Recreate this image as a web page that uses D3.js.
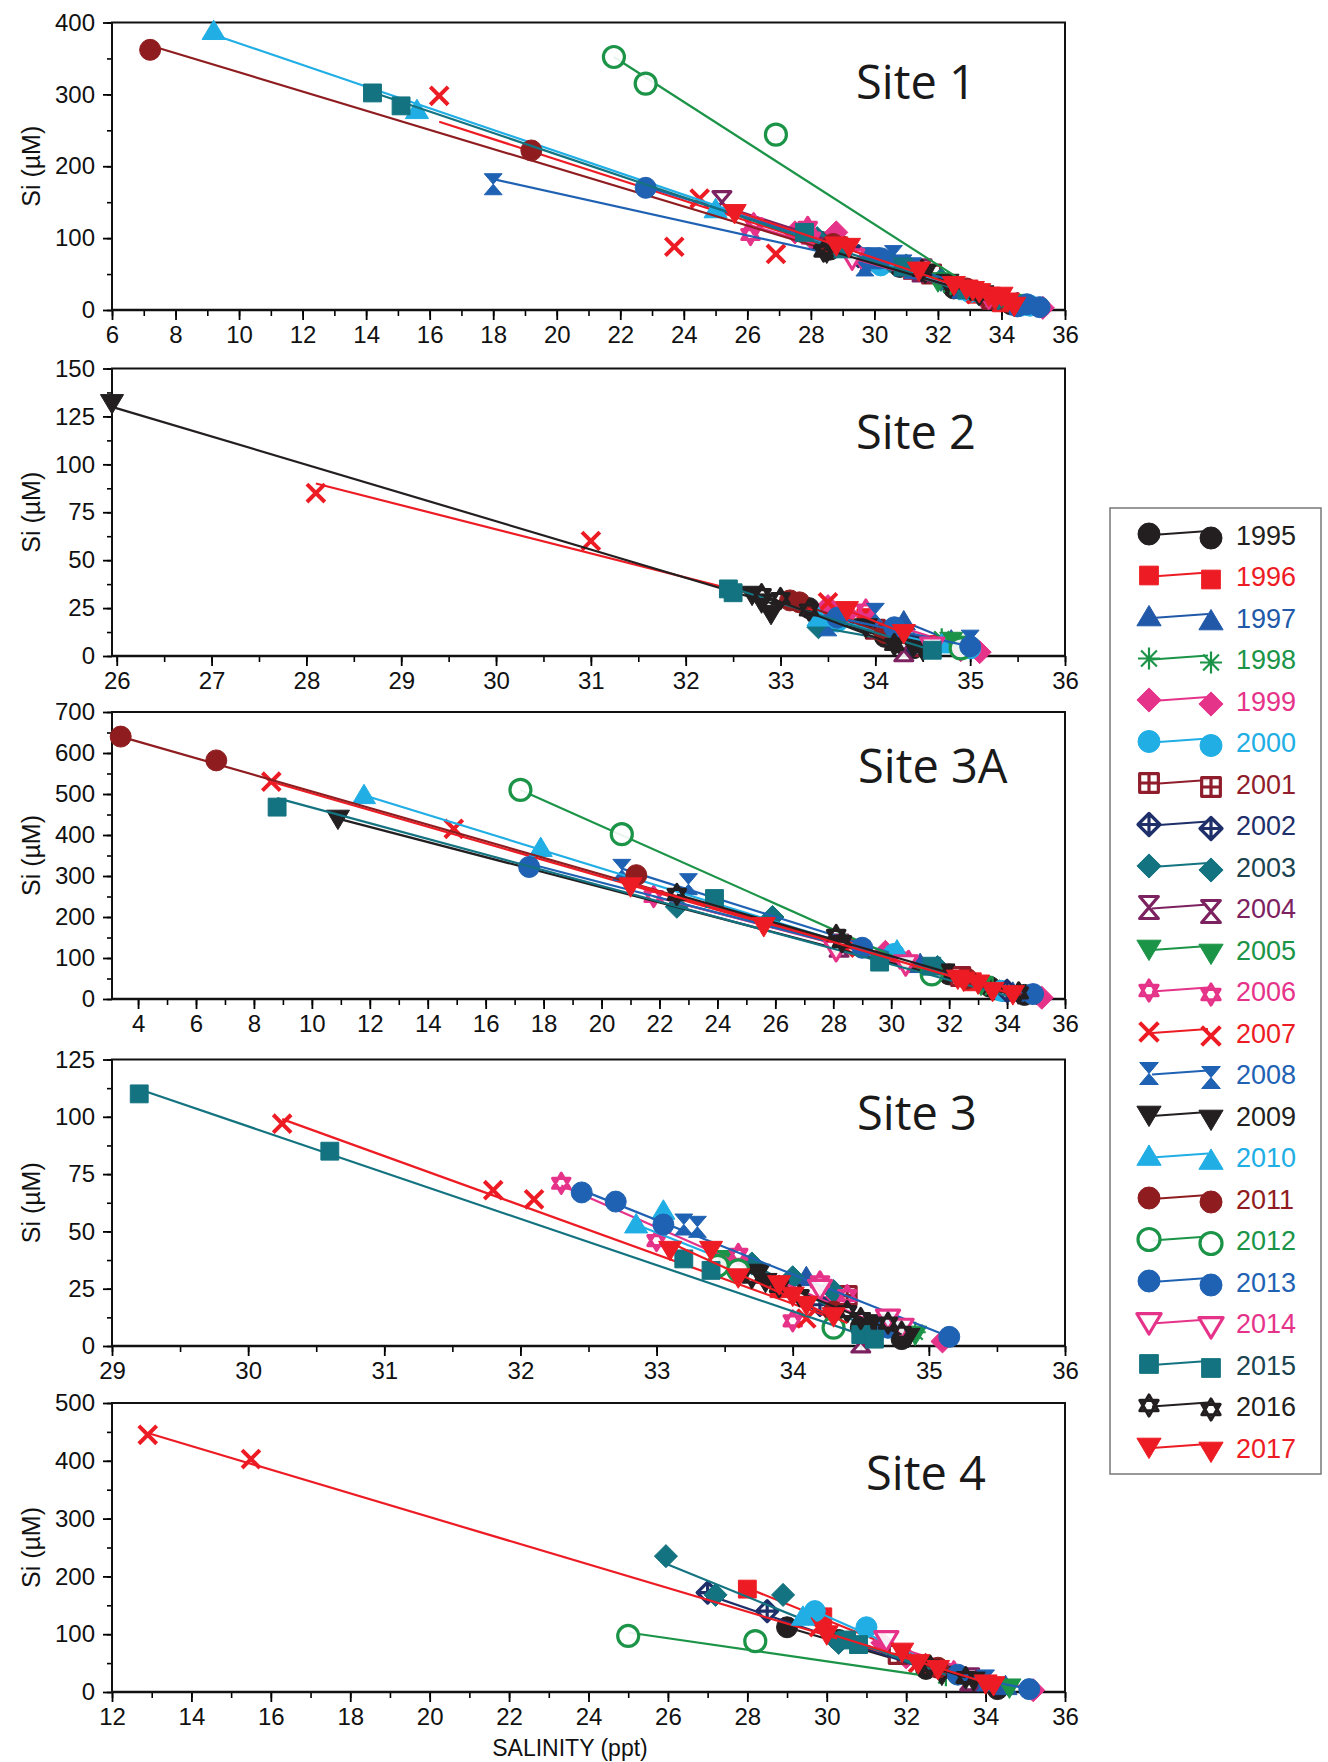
<!DOCTYPE html>
<html>
<head>
<meta charset="utf-8">
<script src="https://cdn.jsdelivr.net/npm/d3@7"></script>
<style>
body { margin: 0; background: #fff; }
svg { display: block; font-family: "Liberation Sans", Arial, sans-serif; }
</style>
</head>
<body>
<svg id="chart" width="1328" height="1762"></svg>
<script>
// years, colours and marker types, in legend order
const years = [1995,1996,1997,1998,1999,2000,2001,2002,2003,2004,2005,2006,2007,2008,2009,2010,2011,2012,2013,2014,2015,2016,2017]
const yearColors = ['#231f20','#ed1c24','#2159a8','#1b9448','#e6338a','#20aee5','#8f1d2c','#1e2f6a','#137380','#7d2260','#1b9448','#e6338a','#ed1c24','#1f62b3','#231f20','#20aee5','#8f1d20','#1b9448','#1f62b3','#e6338a','#137380','#231f20','#ed1c24']
const yearShapes = ['circle','square','tri','star','diamond','circle','osqplus','odiamplus','diamond','ohourglass','tridown','ohex','x','hourglass','tridown','tri','circle','ocircle','circle','otridown','square','ohex','tridown']

// [year, salinity, Si]
const site1Points = [
  [1995,28.3,95],[1995,28.6,84],[1995,29.0,88],[1995,30.8,60],[1995,32.5,30],[1995,33.6,15],[1995,34.3,8],
  [1996,31.2,55],[1996,33.2,22],[1996,34.0,10],
  [1997,29.9,66],[1997,32.8,28],[1997,34.6,5],
  [1998,32.4,35],[1998,34.2,12],
  [1999,27.5,108],[1999,28.8,108],[1999,33.4,18],[1999,35.3,3],
  [2000,30.2,62],[2000,33.0,25],[2000,34.6,6],[2000,34.9,6],
  [2001,31.8,50],[2001,33.7,15],
  [2002,29.5,75],[2002,34.5,8],
  [2003,27.9,105],[2003,28.2,100],[2003,30.5,68],[2003,31.0,62],[2003,32.1,42],[2003,33.3,22],[2003,33.9,16],
  [2004,25.2,150],[2004,31.5,55],
  [2005,32.0,40],[2005,34.4,10],
  [2006,26.2,120],[2006,26.1,105],[2006,27.9,115],[2006,28.0,100],[2006,29.6,72],
  [2007,16.3,298],[2007,23.7,88],[2007,26.9,78],[2007,24.5,155],[2007,33.2,22],
  [2008,18.0,175],[2008,29.7,62],[2008,29.9,72],[2008,30.6,75],[2008,30.9,62],[2008,31.2,58],
  [2009,28.5,80],[2009,31.6,52],[2009,32.3,38],[2009,33.4,22],
  [2010,9.2,388],[2010,15.6,278],[2010,25.0,140],[2010,33.0,26],
  [2011,7.2,362],[2011,19.2,222],[2011,28.7,92],[2011,32.9,30],[2011,33.5,20],
  [2012,21.8,352],[2012,22.8,315],[2012,26.9,244],
  [2013,22.8,170],[2013,29.8,72],[2013,30.2,72],[2013,34.5,5],[2013,34.8,8],[2013,35.2,4],
  [2014,29.3,72],[2014,33.6,18],
  [2015,14.2,302],[2015,15.1,284],[2015,27.8,108],[2015,29.0,85],[2015,30.9,60],[2015,32.9,28],
  [2016,28.4,82],[2016,31.5,55],[2016,33.3,22],
  [2017,25.6,135],[2017,28.8,90],[2017,29.2,88],[2017,31.4,55],[2017,32.5,35],[2017,32.9,30],[2017,33.3,25],[2017,33.6,20],[2017,33.8,15],[2017,34.2,12],[2017,34.0,20],[2017,33.1,28],[2017,34.4,6]
]
// fitted lines [year, sal1, Si1, sal2, Si2]
const site1Fits = [
  [1995,28.3,96,34.3,8],[1996,31.2,55,34.0,12],[1997,29.9,66,34.6,5],[1998,32.4,35,34.2,12],
  [1999,27.5,112,35.3,3],[2000,30.2,63,34.9,6],[2001,31.8,48,33.7,16],[2002,29.5,75,34.5,8],
  [2003,27.9,105,33.9,15],[2004,25.2,145,31.5,55],[2005,32.0,40,34.4,10],[2006,26.1,118,33.0,25],
  [2007,16.3,262,34.0,10],[2008,18.0,182,31.5,50],[2009,28.5,84,33.4,22],[2010,9.2,383,34.0,10],
  [2011,7.2,368,34.2,8],[2012,21.8,352,33.5,20],[2013,22.8,172,35.2,3],[2014,29.3,72,33.6,18],
  [2015,14.2,303,33.5,15],[2016,28.4,85,33.3,22],[2017,25.6,138,34.3,8]
]

const site2Points = [
  [1995,33.3,25],[1995,34.1,10],[1995,34.3,6],[1995,34.4,4],
  [1996,33.9,20],[1996,34.6,6],
  [1997,34.3,18],[1997,34.8,8],
  [1998,34.7,9],
  [1999,33.5,26],[1999,33.7,22],[1999,34.9,3],[1999,35.1,2],
  [2000,33.6,18],[2000,35.0,4],
  [2001,34.0,14],[2001,34.5,5],
  [2002,34.4,6],
  [2003,33.4,15],[2003,34.2,8],
  [2004,34.3,3],
  [2005,34.8,8],[2005,34.9,6],
  [2006,33.9,24],
  [2007,28.1,85],[2007,31.0,60],[2007,33.5,28],[2007,34.3,10],
  [2008,34.0,22],[2008,33.5,16],[2008,35.0,8],
  [2009,25.95,132],[2009,32.7,32],[2009,32.8,28],[2009,32.9,22],[2009,33.9,15],[2009,34.1,11],[2009,34.2,8],[2009,34.4,5],[2009,34.5,3],
  [2010,33.4,20],[2010,34.7,6],
  [2011,33.1,29],[2011,33.2,28],[2011,34.1,12],
  [2012,34.9,4],
  [2013,33.6,20],[2013,34.2,15],[2013,35.0,5],
  [2014,34.6,5],
  [2015,32.45,35],[2015,32.5,33],[2015,34.6,3],
  [2016,32.8,32],[2016,33.0,30],[2016,33.3,24],[2016,34.2,6],
  [2017,33.7,24],[2017,34.3,12]
]
const site2Fits = [
  [1995,33.3,26,34.4,4],[1996,33.9,20,34.6,6],[1997,34.3,18,34.8,8],[1999,33.5,27,35.1,2],
  [2000,33.6,18,35.0,4],[2001,34.0,14,34.5,5],[2003,33.4,15,34.2,8],[2007,28.1,90,34.3,12],
  [2009,25.95,130,34.5,4],[2010,33.4,20,34.7,6],[2011,33.1,29,34.1,12],[2013,33.6,20,35.0,5],
  [2015,32.45,36,34.6,3],[2016,32.8,32,34.2,6],[2017,33.7,24,34.3,12]
]

const site3aPoints = [
  [1995,33.4,30],[1995,34.6,10],[1995,32.0,60],
  [1996,32.8,42],
  [1997,31.0,85],[1997,34.2,15],
  [1998,33.5,28],
  [1999,29.8,115],[1999,35.2,3],
  [2000,30.1,110],[2000,33.8,20],
  [2001,32.4,55],
  [2002,34.0,20],
  [2003,22.6,225],[2003,25.9,200],[2003,31.6,78],
  [2004,28.2,130],
  [2005,33.1,35],
  [2006,21.8,250],[2006,30.3,100],[2006,30.6,92],
  [2007,8.6,530],[2007,14.9,415],[2007,28.4,125],
  [2008,20.7,315],[2008,23.0,280],
  [2009,10.9,440],[2009,31.8,65],
  [2010,11.8,497],[2010,17.9,368],[2010,30.2,118],
  [2011,3.4,640],[2011,6.7,582],[2011,21.2,302],[2011,32.6,50],
  [2012,17.2,510],[2012,20.7,402],[2012,31.4,60],
  [2013,17.5,322],[2013,29.0,125],[2013,34.9,12],
  [2014,28.1,120],[2014,30.5,85],
  [2015,8.8,468],[2015,23.9,245],[2015,29.6,90],[2015,31.4,80],
  [2016,22.6,255],[2016,28.1,155],[2016,28.3,140],[2016,34.4,15],
  [2017,21.0,275],[2017,25.6,178],[2017,32.3,50],[2017,32.5,45],[2017,33.0,38],[2017,33.5,20],[2017,34.2,12]
]
const site3aFits = [
  [2011,3.4,640,34.5,10],[2007,8.6,530,34.2,10],[2015,8.8,490,34.0,8],[2009,10.9,440,34.5,5],
  [2010,11.8,497,33.5,25],[2012,17.2,510,31.4,62],[2013,17.5,330,34.9,10],[2008,20.7,318,33.0,45],
  [2017,21.0,282,34.2,12],[2003,22.6,235,31.6,75],[2006,21.8,250,35.2,3],[2016,22.6,255,34.4,15],
  [1995,32.0,60,34.6,10]
]

const site3Points = [
  [1995,34.5,8],[1995,34.75,8],[1995,34.8,3],
  [1996,33.9,25],
  [1997,34.1,30],
  [1998,34.9,6],
  [1999,35.1,2],[1999,34.3,20],
  [2000,34.7,8],
  [2001,34.4,22],
  [2002,34.2,18],
  [2003,33.7,36],[2003,34.0,30],[2003,34.3,24],[2003,34.6,6],
  [2004,34.5,2],
  [2005,33.5,38],[2005,34.9,5],
  [2006,32.3,71],[2006,33.0,46],[2006,33.6,40],[2006,34.0,11],[2006,34.2,28],[2006,34.4,22],
  [2007,30.25,97],[2007,31.8,68],[2007,32.1,64],[2007,34.1,12],
  [2008,33.2,53],[2008,33.3,52],
  [2009,33.75,32],[2009,33.8,28],[2009,34.6,10],[2009,34.85,4],
  [2010,32.85,53],[2010,33.05,59],
  [2011,34.3,15],
  [2012,33.45,35],[2012,33.6,33],[2012,34.3,8],
  [2013,32.45,67],[2013,32.7,63],[2013,33.05,53],[2013,34.7,8],[2013,35.15,4],
  [2014,34.2,25],[2014,34.7,12],[2014,34.8,8],
  [2015,29.2,110],[2015,30.6,85],[2015,33.2,38],[2015,33.4,33],[2015,34.5,5],[2015,34.6,3],
  [2016,33.7,30],[2016,33.9,26],[2016,34.05,22],[2016,34.4,15],[2016,34.5,12],[2016,34.7,10],[2016,34.8,6],
  [2017,33.1,42],[2017,33.4,42],[2017,33.6,30],[2017,33.9,27],[2017,34.1,18],[2017,34.3,13],[2017,34.0,22]
]
const site3Fits = [
  [2015,29.2,112,34.6,3],[2007,30.25,99,34.3,12],[2013,32.45,68,35.15,4],[2006,32.3,70,34.8,5],
  [2017,33.1,45,34.4,10],[2016,33.7,32,34.8,5],[2003,33.7,36,34.6,6],[2010,32.85,53,33.4,40]
]

const site4Points = [
  [1995,29.0,112],[1995,30.3,90],[1995,32.5,40],[1995,34.3,5],
  [1996,28.0,178],[1996,29.9,130],
  [1997,33.9,18],[1997,34.5,10],
  [1998,33.0,28],
  [1999,31.4,85],[1999,32.0,60],[1999,35.2,3],
  [2000,29.7,140],[2000,31.0,112],
  [2001,31.8,65],
  [2002,27.0,172],[2002,28.5,140],
  [2003,25.95,235],[2003,27.2,168],[2003,28.9,168],[2003,30.3,85],
  [2004,33.6,22],
  [2005,34.6,8],
  [2006,33.2,35],
  [2007,12.9,445],[2007,15.5,403],[2007,29.8,112],[2007,32.3,50],
  [2008,34.0,20],
  [2009,32.9,30],[2009,33.7,20],
  [2010,29.4,130],
  [2011,32.8,42],
  [2012,25.0,97],[2012,28.2,88],
  [2013,33.3,30],[2013,35.1,5],
  [2014,31.5,90],
  [2015,30.5,90],[2015,30.8,82],
  [2016,32.6,45],[2016,33.5,25],
  [2017,30.0,100],[2017,31.9,70],[2017,32.3,50],[2017,32.8,40],[2017,34.2,12],[2017,34.0,15]
]
const site4Fits = [
  [2007,12.9,448,34.2,12],[2012,25.0,103,32.3,30],[2003,25.95,222,33.0,25],[2002,27.0,168,33.0,28],
  [1996,28.0,180,32.5,55],[1995,29.0,112,34.3,5],[2000,29.7,140,32.5,55],[2017,30.0,102,34.2,12],
  [2015,30.5,92,33.0,30],[1999,31.4,85,35.2,3],[2016,32.6,45,33.5,25],[2013,33.3,30,35.1,5]
]

// tick labels
const site1XTicks = [6,8,10,12,14,16,18,20,22,24,26,28,30,32,34,36]
const site1YTicks = [0,100,200,300,400]
const site2XTicks = [26,27,28,29,30,31,32,33,34,35,36]
const site2YTicks = [0,25,50,75,100,125,150]
const site3aXTicks = [4,6,8,10,12,14,16,18,20,22,24,26,28,30,32,34,36]
const site3aYTicks = [0,100,200,300,400,500,600,700]
const site3XTicks = [29,30,31,32,33,34,35,36]
const site3YTicks = [0,25,50,75,100,125]
const site4XTicks = [12,14,16,18,20,22,24,26,28,30,32,34,36]
const site4YTicks = [0,100,200,300,400,500]

const svg = d3.select('#chart')
const left = 112, right = 1065
const markerR = 10.5

const panels = [
  {name: 'Site 1', pts: site1Points, fits: site1Fits, xDom: [6,36], yDom: [0,400], top: 22.5, bottom: 310,
   xTicks: site1XTicks, yTicks: site1YTicks, xMinor: 1, yMinor: 50, labelX: 856, labelY: 99},
  {name: 'Site 2', pts: site2Points, fits: site2Fits, xDom: [25.95,36], yDom: [0,150], top: 368.5, bottom: 656,
   xTicks: site2XTicks, yTicks: site2YTicks, xMinor: 0.5, yMinor: 12.5, labelX: 856, labelY: 449},
  {name: 'Site 3A', pts: site3aPoints, fits: site3aFits, xDom: [3.1,36], yDom: [0,700], top: 712, bottom: 999,
   xTicks: site3aXTicks, yTicks: site3aYTicks, xMinor: 1, yMinor: 50, labelX: 858, labelY: 783},
  {name: 'Site 3', pts: site3Points, fits: site3Fits, xDom: [29,36], yDom: [0,125], top: 1059.5, bottom: 1346,
   xTicks: site3XTicks, yTicks: site3YTicks, xMinor: 0.5, yMinor: 12.5, labelX: 857, labelY: 1130},
  {name: 'Site 4', pts: site4Points, fits: site4Fits, xDom: [12,36], yDom: [0,500], top: 1403, bottom: 1692,
   xTicks: site4XTicks, yTicks: site4YTicks, xMinor: 1, yMinor: 50, labelX: 866, labelY: 1490}
]

function shapePath(shape, r) {
  const s = r * 0.85
  switch (shape) {
    case 'circle':
    case 'ocircle':
      return `M${r},0A${r},${r} 0 1,1 ${-r},0A${r},${r} 0 1,1 ${r},0Z`
    case 'square':
      return `M${-s},${-s}H${s}V${s}H${-s}Z`
    case 'osqplus':
      return `M${-s},${-s}H${s}V${s}H${-s}ZM0,${-s}V${s}M${-s},0H${s}`
    case 'tri':
      return `M0,${-r*1.05}L${r*1.1},${r*0.8}L${-r*1.1},${r*0.8}Z`
    case 'tridown':
    case 'otridown':
      return `M0,${r*1.05}L${r*1.1},${-r*0.8}L${-r*1.1},${-r*0.8}Z`
    case 'diamond':
      return `M0,${-r*1.1}L${r*1.1},0L0,${r*1.1}L${-r*1.1},0Z`
    case 'odiamplus':
      return `M0,${-r}L${r},0L0,${r}L${-r},0ZM0,${-r}V${r}M${-r},0H${r}`
    case 'hourglass':
    case 'ohourglass':
      return `M${-s},${-r}H${s}L${-s},${r}H${s}Z`
    case 'star': {
      const d = r * 0.72
      return `M${-r},0H${r}M0,${-r}V${r}M${-d},${-d}L${d},${d}M${d},${-d}L${-d},${d}`
    }
    case 'ohex': {
      const h = r * 0.95
      const a = `M0,${-h}L${h*0.87},${h*0.5}L${-h*0.87},${h*0.5}Z`
      const b = `M0,${h}L${h*0.87},${-h*0.5}L${-h*0.87},${-h*0.5}Z`
      return a + b
    }
    case 'x':
      return `M${-s},${-s}L${s},${s}M${s},${-s}L${-s},${s}`
  }
}

function styleMarker(sel, i) {
  const shape = yearShapes[i]
  const color = yearColors[i]
  const filled = ['circle','square','tri','tridown','diamond','hourglass'].includes(shape)
  const lineOnly = ['star','x'].includes(shape)
  sel.attr('fill', filled ? color : (lineOnly ? 'none' : '#fff'))
    .attr('fill-opacity', filled ? 1 : 0.9)
    .attr('stroke', color)
    .attr('stroke-width', filled ? 1 : (shape === 'x' ? 4 : (shape === 'star' ? 2.2 : 3.2)))
    .attr('stroke-linejoin', 'round')
}

panels.forEach(p => {
  const x = d3.scaleLinear().domain(p.xDom).range([left, right])
  const y = d3.scaleLinear().domain(p.yDom).range([p.bottom, p.top])
  const g = svg.append('g')

  // minor ticks
  const xMinorTicks = d3.range(Math.ceil(p.xDom[0] / p.xMinor) * p.xMinor, p.xDom[1] + 0.001, p.xMinor)
  g.append('g')
    .attr('transform', `translate(0,${p.bottom})`)
    .call(d3.axisBottom(x).tickValues(xMinorTicks).tickSize(6).tickFormat(''))
    .call(a => a.select('.domain').remove())
    .call(a => a.selectAll('line').attr('stroke-width', 1.6))
  const yMinorTicks = d3.range(p.yDom[0], p.yDom[1] + 0.001, p.yMinor)
  g.append('g')
    .attr('transform', `translate(${left},0)`)
    .call(d3.axisLeft(y).tickValues(yMinorTicks).tickSize(5).tickFormat(''))
    .call(a => a.select('.domain').remove())
    .call(a => a.selectAll('line').attr('stroke-width', 1.6))

  // major ticks and labels
  g.append('g')
    .attr('transform', `translate(0,${p.bottom})`)
    .call(d3.axisBottom(x).tickValues(p.xTicks).tickSize(10).tickPadding(6).tickFormat(d3.format('d')))
    .call(a => a.select('.domain').remove())
    .call(a => a.selectAll('line').attr('stroke-width', 1.8))
    .call(a => a.selectAll('text').attr('font-size', 24).attr('fill', '#111').attr('font-family', '"Liberation Sans", Arial, sans-serif'))
  g.append('g')
    .attr('transform', `translate(${left},0)`)
    .call(d3.axisLeft(y).tickValues(p.yTicks).tickSize(9).tickPadding(8).tickFormat(d3.format('d')))
    .call(a => a.select('.domain').remove())
    .call(a => a.selectAll('line').attr('stroke-width', 1.8))
    .call(a => a.selectAll('text').attr('font-size', 24).attr('fill', '#111').attr('font-family', '"Liberation Sans", Arial, sans-serif'))

  // frame
  g.append('rect')
    .attr('x', left).attr('y', p.top)
    .attr('width', right - left).attr('height', p.bottom - p.top)
    .attr('fill', 'none').attr('stroke', '#111').attr('stroke-width', 2)
  g.append('line')
    .attr('x1', left).attr('x2', right).attr('y1', p.bottom).attr('y2', p.bottom)
    .attr('stroke', '#111').attr('stroke-width', 2.6)

  // y title
  g.append('text')
    .attr('transform', `translate(40,${(p.top + p.bottom) / 2}) rotate(-90)`)
    .attr('text-anchor', 'middle')
    .attr('font-size', 25)
    .attr('fill', '#111')
    .text('Si (µM)')

  // site label
  g.append('text')
    .attr('x', p.labelX).attr('y', p.labelY)
    .attr('font-family', '"Open Sans", sans-serif')
    .attr('font-size', 47)
    .attr('fill', '#1a1a1a')
    .text(p.name)

  // series drawn year by year: fitted line, then markers
  years.forEach((yr, i) => {
    const fits = p.fits.filter(f => f[0] === yr)
    g.selectAll(null)
      .data(fits)
      .enter()
      .append('line')
      .attr('x1', d => x(d[1])).attr('y1', d => y(d[2]))
      .attr('x2', d => x(d[3])).attr('y2', d => y(d[4]))
      .attr('stroke', yearColors[i])
      .attr('stroke-width', 2.2)

    const pts = p.pts.filter(d => d[0] === yr)
    g.selectAll(null)
      .data(pts)
      .enter()
      .append('path')
      .attr('transform', d => `translate(${x(d[1])},${y(d[2])})`)
      .attr('d', shapePath(yearShapes[i], markerR))
      .call(styleMarker, i)
  })
})

// x axis title
svg.append('text')
  .attr('x', 570).attr('y', 1756)
  .attr('text-anchor', 'middle')
  .attr('font-size', 23)
  .attr('fill', '#111')
  .text('SALINITY (ppt)')

// legend
const legend = svg.append('g')
legend.append('rect')
  .attr('x', 1110).attr('y', 508)
  .attr('width', 211).attr('height', 966)
  .attr('fill', '#fff').attr('stroke', '#777').attr('stroke-width', 1.5)

const legendRow = d3.scaleLinear().domain([0, years.length - 1]).range([535, 1448])
const legendTextColors = yearColors.map((c, i) => (years[i] === 2003 || years[i] === 2015) ? '#1c4450' : c)

years.forEach((yr, i) => {
  const cy = legendRow(i)
  const row = legend.append('g')
  row.append('line')
    .attr('x1', 1152).attr('y1', cy)
    .attr('x2', 1208).attr('y2', cy - 4)
    .attr('stroke', yearColors[i]).attr('stroke-width', 2)
  row.append('path')
    .attr('transform', `translate(1149,${cy - 1})`)
    .attr('d', shapePath(yearShapes[i], 11))
    .call(styleMarker, i)
  row.append('path')
    .attr('transform', `translate(1211,${cy + 3})`)
    .attr('d', shapePath(yearShapes[i], 11))
    .call(styleMarker, i)
  row.append('text')
    .attr('x', 1236).attr('y', cy)
    .attr('dy', '0.36em')
    .attr('font-size', 27)
    .attr('fill', legendTextColors[i])
    .text(yr)
})
</script>
</body>
</html>
